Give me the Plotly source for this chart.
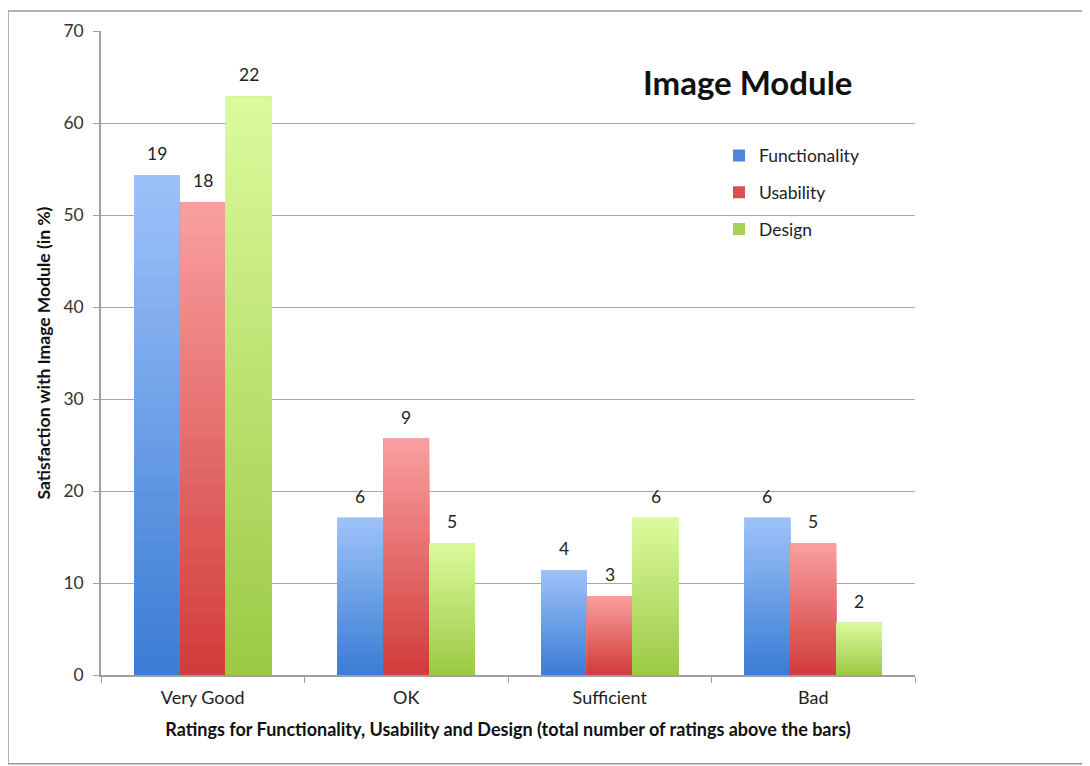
import plotly.graph_objects as go

categories = ["Very Good", "OK", "Sufficient", "Bad"]
series_names = ["Functionality", "Usability", "Design"]
functionality_pct = [54.3, 17.1, 11.4, 17.1]
usability_pct = [51.4, 25.7, 8.6, 14.3]
design_pct = [62.9, 14.3, 17.1, 5.7]
functionality_n = [19, 6, 4, 6]
usability_n = [18, 9, 3, 5]
design_n = [22, 5, 6, 2]
y_ticks = [0, 10, 20, 30, 40, 50, 60, 70]

values = [functionality_pct, usability_pct, design_pct]
counts = [functionality_n, usability_n, design_n]
top_colors = [(156, 193, 249), (249, 158, 158), (218, 250, 156)]
bottom_colors = [(60, 125, 213), (210, 60, 60), (156, 202, 70)]
legend_colors = ["#4d87db", "#dd4e4e", "#a6d25a"]

FONT = "Lato, 'Open Sans', sans-serif"
bar_w = 0.225
NB = 30

# page offset of 8px (body margin) taken into account
W, H = 1082, 758
ML, MT = 93, 21
PW, PH = 814, 646
MR = W - ML - PW
MB = H - MT - PH
cat_px = PW / len(categories)


def mix(c1, c2, t):
    return "rgb(%d,%d,%d)" % tuple(round(a + (b - a) * t) for a, b in zip(c1, c2))


fig = go.Figure()
annotations = []
for i, name in enumerate(series_names):
    off = -1.5 * bar_w + i * bar_w
    fig.add_trace(go.Bar(
        x=categories, y=values[i], name=name,
        width=bar_w, offset=off,
        marker=dict(color=legend_colors[i], line=dict(width=0)),
        legendgroup=name,
    ))
    for k in range(NB):
        frac = 1 - k / NB
        t = k / (NB - 1)
        fig.add_trace(go.Bar(
            x=categories, y=[v * frac for v in values[i]],
            width=bar_w, offset=off,
            marker=dict(color=mix(top_colors[i], bottom_colors[i], t), line=dict(width=0)),
            showlegend=False, hoverinfo="skip", legendgroup=name,
        ))
    for j, cat in enumerate(categories):
        annotations.append(dict(
            x=cat, y=values[i][j], xref="x", yref="y",
            text=str(counts[i][j]), showarrow=False,
            xanchor="center", yanchor="bottom",
            xshift=(i - 1) * bar_w * cat_px, yshift=9,
            font=dict(size=17.5, color="#222", family=FONT),
        ))

annotations.append(dict(
    text="<b>Image Module</b>", x=(641 - 101) / PW, y=(675 - 80) / PH,
    xref="paper", yref="paper",
    xanchor="left", yanchor="middle", showarrow=False,
    font=dict(size=33, color="#111", family=FONT),
))

fig.update_layout(
    width=W, height=H,
    barmode="overlay",
    plot_bgcolor="white", paper_bgcolor="white",
    margin=dict(l=ML, r=MR, t=MT, b=MB),
    font=dict(family=FONT, color="#222"),
    showlegend=True,
    legend=dict(
        x=(719 - 101) / PW, y=(675 - 136) / PH, xanchor="left", yanchor="top",
        font=dict(size=17.5, color="#222", family=FONT),
        traceorder="grouped", tracegroupgap=11,
        bgcolor="rgba(0,0,0,0)",
    ),
    annotations=annotations,
    shapes=[dict(
        type="rect", xref="paper", yref="paper",
        x0=-ML / PW, x1=(1078 - ML) / PW,
        y0=-(MB - 2) / PH, y1=1 + (MT - 1) / PH,
        line=dict(color="#9a9a9a", width=1.5), layer="below",
    )],
)

fig.update_xaxes(
    showline=True, linecolor="#a0a0a0", linewidth=1.5,
    ticks="outside", tickson="boundaries", ticklen=6, tickcolor="#a0a0a0",
    ticklabelstandoff=6,
    tickfont=dict(size=18, color="#222", family=FONT),
    title=dict(text="<b>Ratings for Functionality, Usability and Design (total number of ratings above the bars)</b>",
               font=dict(size=18, color="#111", family=FONT), standoff=16),
    showgrid=False,
)
fig.update_yaxes(
    range=[0, 70], tickvals=y_ticks,
    showline=True, linecolor="#a0a0a0", linewidth=1.5,
    ticks="outside", ticklen=6, tickcolor="#a0a0a0",
    showgrid=True, gridcolor="#a8a8a8", gridwidth=1.2,
    zeroline=False, ticklabelstandoff=6,
    tickfont=dict(size=17.5, color="#333", family=FONT),
    title=dict(text="<b>Satisfaction with Image Module (in %)</b>",
               font=dict(size=17.5, color="#111", family=FONT), standoff=8),
)

fig.write_html("out.html")
